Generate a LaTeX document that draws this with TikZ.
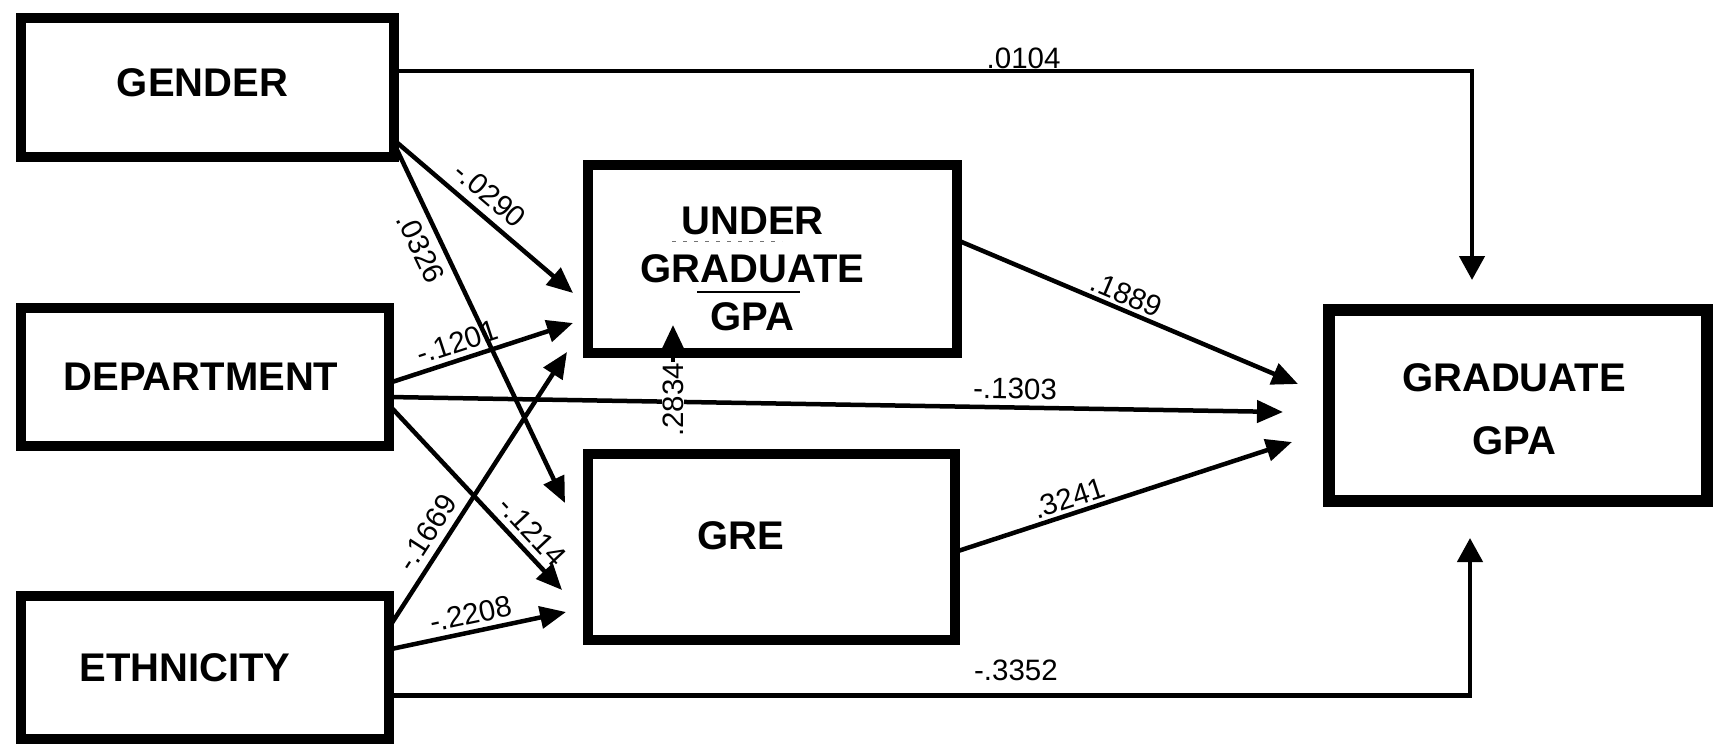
\documentclass[tikz,border=0pt]{standalone}
\usepackage{fontspec}
\setmainfont{Liberation Sans}
\usetikzlibrary{arrows.meta}
\begin{document}
\begin{tikzpicture}[x=1pt,y=-1pt,
  box/.style={draw, line width=10pt, rectangle, inner sep=0pt, outer sep=0pt},
  boxtext/.style={font=\fontsize{40}{48}\selectfont\bfseries, align=center},
  coef/.style={font=\fontsize{29.5}{32}\selectfont, inner sep=1pt},
  path/.style={line width=4.5pt, -{Triangle[length=26pt,width=22pt]}},
  bentpath/.style={line width=4.5pt, -{Triangle[length=24pt,width=25pt]}}
]
\fill[white] (0,0) rectangle (1715,747);
\useasboundingbox (0,0) rectangle (1715,747);

% boxes
\node[box, minimum width=373pt, minimum height=139pt,
  label={[boxtext, xshift=-5pt, yshift=4.5pt]center:GENDER}] (gender) at (207.5,87.5) {};
\node[box, minimum width=368pt, minimum height=138pt,
  label={[boxtext, xshift=-4pt]center:DEPARTMENT}] (dept) at (205,377) {};
\node[box, minimum width=368pt, minimum height=143pt,
  label={[boxtext, xshift=-20pt]center:ETHNICITY}] (eth) at (205,667.5) {};
\node[box, minimum width=369pt, minimum height=188pt,
  label={[boxtext, xshift=-20pt, yshift=-10pt]center:UNDER\\GRADUATE\\GPA}] (ug) at (772.5,259) {};
\node[box, minimum width=367pt, minimum height=186pt,
  label={[boxtext, xshift=-31pt, yshift=11pt]center:GRE}] (gre) at (771.5,547) {};
\node[box, line width=12pt, minimum width=378pt, minimum height=191pt,
  label={[boxtext, xshift=-4pt, yshift=-4pt, font=\fontsize{40}{63}\selectfont\bfseries]center:GRADUATE\\GPA}] (grad) at (1518,405.5) {};

% underline marks in the undergraduate box
\draw[line width=2.5pt] (697,292) -- (800,292);
\draw[line width=1pt, black!55, dash pattern=on 4pt off 7pt] (672,241) -- (782,241);

% connectors
\draw[bentpath] ([yshift=16.5pt]gender.east) -| node[coef, pos=0.292, above, inner sep=0pt] {.0104} ([xshift=-46pt,yshift=30pt]grad.north);

\draw[path] ([yshift=-52.5pt]gender.east) -- node[coef, pos=0.46, sloped, above=7pt] {-.0290} ([xshift=-15pt,yshift=-34pt]ug.west);
\draw[path] ([yshift=-56pt]gender.east) -- node[coef, pos=0.266, sloped, below=7pt] {.0326} ([xshift=-23pt,yshift=44pt]gre.west);

\draw[path] ([yshift=-6pt]dept.east) -- node[coef, pos=0.40, sloped, above=4pt] {-.1201} ([xshift=-15pt,yshift=-64pt]ug.west);
\draw[path] ([yshift=-20pt]dept.east) -- node[coef, pos=0.70, sloped, above=5pt] {-.1303} ([xshift=-46pt,yshift=-6.5pt]grad.west);
\draw[path] ([yshift=-28pt]dept.east) -- node[coef, pos=0.75, sloped, above=5pt] {-.1214} ([xshift=-26pt,yshift=-43pt]gre.west);

\draw[path] ([yshift=40pt]eth.east) -- node[coef, pos=0.305, sloped, above=6pt] {-.1669} ([xshift=-21pt,yshift=1pt]ug.south west);
\draw[path] ([yshift=18pt]eth.east) -- node[coef, pos=0.483, sloped, above=4pt] {-.2208} ([xshift=-22pt,yshift=28pt]gre.south west);

\draw[path, -{Triangle[length=28pt,width=25pt]}] ([xshift=-98.5pt,yshift=17pt]gre.north) -- ([xshift=-99.5pt,yshift=28pt]ug.south);
\node[coef, rotate=90, fill=white, inner sep=1pt] (c2834) at (673,400) {.2834};

\draw[path] ([yshift=19pt]ug.east) -- node[coef, pos=0.48, sloped, above=2pt] {.1889} ([xshift=-31pt,yshift=21.5pt]grad.west);
\draw[path] ([yshift=-5pt]gre.east) -- node[coef, pos=0.353, sloped, above=2pt] {.3241} ([xshift=-37pt,yshift=-36.5pt]grad.west);

\draw[bentpath] ([yshift=-28pt]eth.east) -| node[coef, pos=0.29, above=11pt] {-.3352} ([xshift=-48pt,yshift=-37pt]grad.south);
\end{tikzpicture}
\end{document}
